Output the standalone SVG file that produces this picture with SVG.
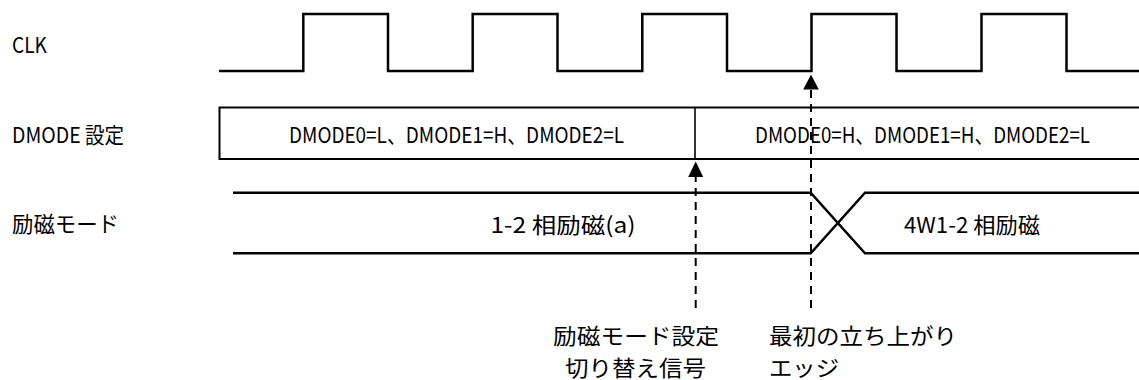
<svg xmlns="http://www.w3.org/2000/svg" width="1139" height="380" viewBox="0 0 1139 380">
  <style>
    text { font-family: "Noto Sans CJK JP", "Liberation Sans", sans-serif; fill: #000; }
    .lbl { font-size: 22px; }
    .note { font-size: 22px; }
    .wave { fill: none; stroke: #000; stroke-width: 2.5; stroke-linejoin: miter; }
    .thin { fill: none; stroke: #000; stroke-width: 2; }
    .dash { fill: none; stroke: #000; stroke-width: 2; stroke-dasharray: 8 6; }
    .head { fill: #000; }
  </style>

  <g id="clk">
    <text class="lbl" x="12" y="53" textLength="35" lengthAdjust="spacingAndGlyphs">CLK</text>
    <path class="wave" d="M219,71 H303.3 V14 H388 V71 H472.7 V14 H557.5 V71 H642.3 V14 H727 V71 H811.5 V14 H896.5 V71 H981.5 V14 H1066.5 V71 H1139"/>
  </g>

  <g id="dmode">
    <text class="lbl" x="12" y="143" textLength="112" lengthAdjust="spacingAndGlyphs">DMODE 設定</text>
    <path class="thin" d="M1139,107.5 H219.5 V159 H1139"/>
    <line x1="695" y1="107.5" x2="695" y2="159" stroke="#000" stroke-width="1.6"/>
    <text class="lbl" x="289" y="143" textLength="335" lengthAdjust="spacingAndGlyphs">DMODE0=L、DMODE1=H、DMODE2=L</text>
    <text class="lbl" x="755" y="143" textLength="335" lengthAdjust="spacingAndGlyphs">DMODE0=H、DMODE1=H、DMODE2=L</text>
  </g>

  <g id="excitation">
    <text class="lbl" x="12" y="232" textLength="107" lengthAdjust="spacingAndGlyphs">励磁モード</text>
    <path class="wave" d="M233,192.7 H810.7 L865,253.3 H1139"/>
    <path class="wave" d="M233,253.3 H810.7 L865,192.7 H1139"/>
    <text class="lbl" x="490.5" y="232.5" textLength="145" lengthAdjust="spacingAndGlyphs">1-2 相励磁(a)</text>
    <text class="lbl" x="904" y="232.5" textLength="136" lengthAdjust="spacingAndGlyphs">4W1-2 相励磁</text>
  </g>

  <g id="connectors">
    <path class="dash" d="M695.7,308 V170"/>
    <path class="head" d="M695.7,161.5 L703.2,177 L688.2,177 Z"/>
    <path class="dash" d="M811,308 V83"/>
    <path class="head" d="M811,74.5 L818.8,89.5 L803.2,89.5 Z"/>
  </g>

  <g id="label-switch">
    <text class="note" x="553" y="344" textLength="166" lengthAdjust="spacingAndGlyphs">励磁モード設定</text>
    <text class="note" x="565" y="376" textLength="141" lengthAdjust="spacingAndGlyphs">切り替え信号</text>
  </g>

  <g id="label-edge">
    <text class="note" x="769" y="344" textLength="188" lengthAdjust="spacingAndGlyphs">最初の立ち上がり</text>
    <text class="note" x="769" y="376" textLength="70" lengthAdjust="spacingAndGlyphs">エッジ</text>
  </g>
</svg>
